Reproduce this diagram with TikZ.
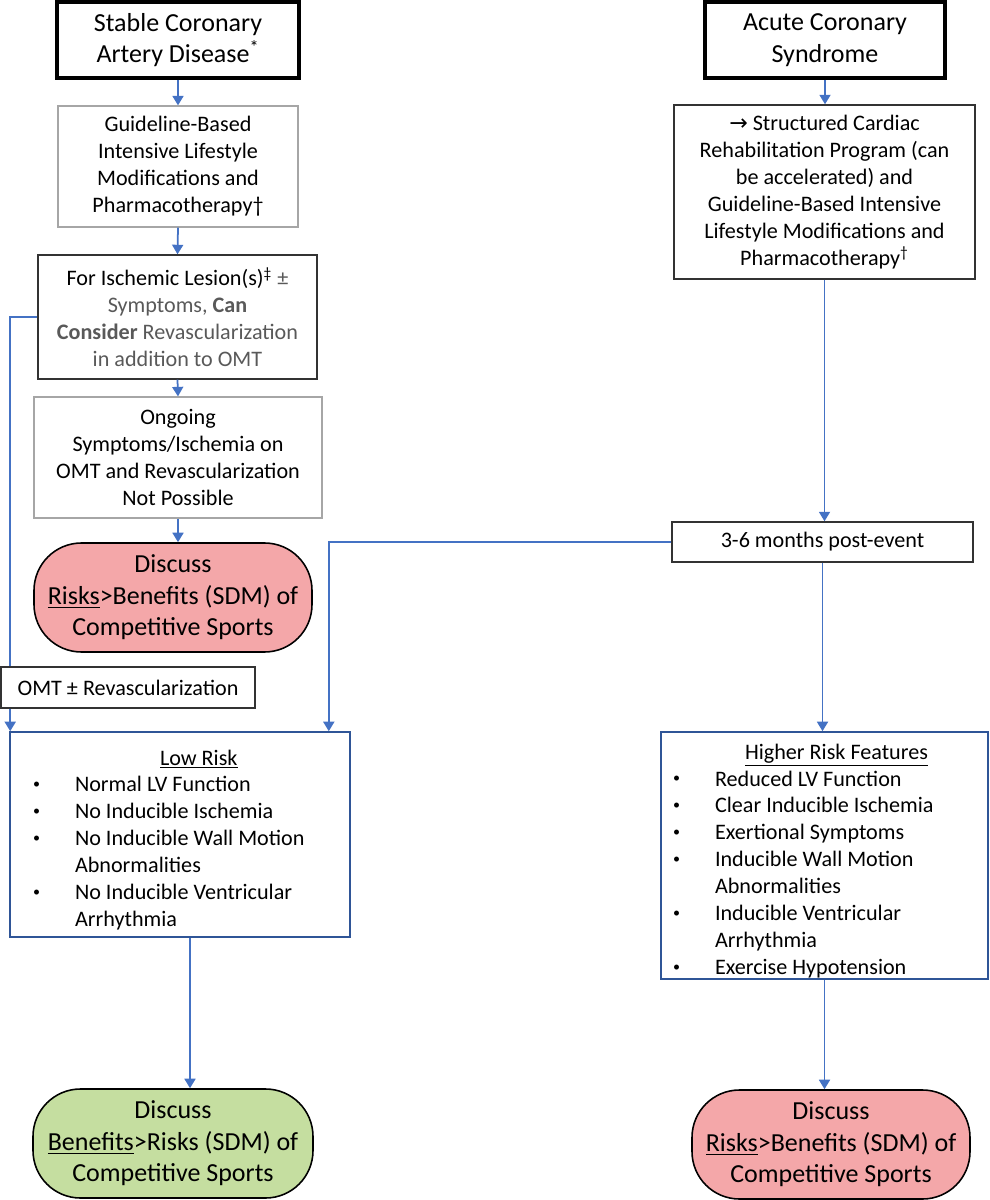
\documentclass[tikz,border=0pt]{standalone}
\usepackage{fontspec}
\setmainfont{Carlito}
\newfontfamily\arrowfont{DejaVu Sans}
\usepackage{xcolor}
\usetikzlibrary{arrows.meta}
\definecolor{linkblue}{RGB}{68,114,196}
\definecolor{frameblue}{RGB}{47,85,151}
\definecolor{boxgray}{RGB}{166,166,166}
\definecolor{txtgray}{RGB}{89,89,89}
\definecolor{riskpink}{RGB}{244,167,169}
\definecolor{okgreen}{RGB}{197,222,160}
\newcommand\headsize{\fontsize{14.8}{18}\selectfont}
\newcommand\bodysize{\fontsize{12.6}{15.3}\selectfont}
\newcommand\bl{\makebox[0.84cm][l]{\raisebox{0.3ex}{\fontsize{8}{8}\selectfont\textbullet}}}
\newcommand\hang{\hspace*{0.84cm}}
\tikzset{
  head/.style={draw, line width=2.2pt, align=flush center, inner sep=0pt, font=\headsize},
  plainbox/.style={draw=boxgray, line width=0.7pt, align=flush center, inner sep=0pt, font=\bodysize},
  darkbox/.style={draw=black!80, line width=0.8pt, align=flush center, inner sep=0pt, font=\bodysize},
  riskbox/.style={draw=frameblue, line width=0.9pt, align=flush left, inner ysep=0pt, font=\bodysize},
  pill/.style={draw, line width=0.9pt, rounded corners=0.95cm, align=flush center, inner sep=0pt, font=\headsize},
  link/.style={draw=linkblue, line width=1pt, -{Triangle[width=0.22cm,length=0.19cm]}},
}

\begin{document}
\begin{tikzpicture}
\useasboundingbox (0,0) rectangle (19.78,-24);
% stable disease column
\node[head, minimum width=4.84cm, minimum height=1.52cm] (cad) at (3.56,-0.8) {Stable Coronary\\Artery Disease\textsuperscript{*}};
\node[plainbox, minimum width=4.8cm, minimum height=2.42cm] (glm) at (3.56,-3.33) {Guideline-Based\\Intensive Lifestyle\\Modifications and\\Pharmacotherapy†};
\node[darkbox, minimum width=5.58cm, minimum height=2.48cm] (lesion) at (3.55,-6.34) {For Ischemic Lesion(s)\textsuperscript{‡} {\color{txtgray}±}\\{\color{txtgray}Symptoms, \textbf{Can}}\\{\color{txtgray}\textbf{Consider} Revascularization}\\{\color{txtgray}in addition to OMT}};
\node[plainbox, minimum width=5.76cm, minimum height=2.42cm] (ongoing) at (3.56,-9.15) {Ongoing\\Symptoms/Ischemia on\\OMT and Revascularization\\Not Possible};
\node[pill, fill=riskpink, minimum width=5.56cm, minimum height=2.18cm] (riskL) at (3.46,-11.95) {Discuss\\\underline{Risks}>Benefits (SDM) of\\Competitive Sports};
\node[riskbox, inner xsep=0.46cm, text width=5.88cm, minimum height=4.1cm] (low) at (3.6,-16.69) {\rule{0pt}{0.52cm}\hspace*{2.54cm}\underline{Low Risk}\\\bl Normal LV Function\\\bl No Inducible Ischemia\\\bl No Inducible Wall Motion\\\hang Abnormalities\\\bl No Inducible Ventricular\\\hang Arrhythmia};
\node[pill, fill=okgreen, minimum width=5.6cm, minimum height=2.18cm] (benefit) at (3.46,-22.87) {Discuss\\\underline{Benefits}>Risks (SDM) of\\Competitive Sports};
% acute column
\node[head, minimum width=4.8cm, minimum height=1.52cm] (acs) at (16.5,-0.8) {Acute Coronary\\Syndrome};
\node[darkbox, minimum width=6.02cm, minimum height=3.48cm] (rehab) at (16.49,-3.84) {{\arrowfont →} Structured Cardiac\\Rehabilitation Program (can\\be accelerated) and\\Guideline-Based Intensive\\Lifestyle Modifications and\\Pharmacotherapy\textsuperscript{†}};
\node[darkbox, minimum width=6.02cm, minimum height=0.8cm] (months) at (16.45,-10.84) {3-6 months post-event};
\node[riskbox, inner xsep=0.24cm, text width=6.06cm, minimum height=4.94cm] (high) at (16.49,-17.11) {\rule{0pt}{0.52cm}\hspace*{1.44cm}\underline{Higher Risk Features}\\\bl Reduced LV Function\\\bl Clear Inducible Ischemia\\\bl Exertional Symptoms\\\bl Inducible Wall Motion\\\hang Abnormalities\\\bl Inducible Ventricular\\\hang Arrhythmia\\\bl Exercise Hypotension};
\node[pill, fill=riskpink, minimum width=5.56cm, minimum height=2.18cm] (riskR) at (16.62,-22.89) {Discuss\\\underline{Risks}>Benefits (SDM) of\\Competitive Sports};
% connectors
\coordinate (lowout) at ([xshift=0.2cm]low.south);
\draw[link] (cad.south) -- (glm.north);
\draw[link] (glm.south) -- (lesion.north);
\draw[link] (lesion.south) -- (ongoing.north);
\draw[link] (ongoing.south) -- (ongoing.south |- riskL.north);
\draw[link] (lesion.west) -| ([xshift=0.02cm]low.north west);
\draw[link] (lowout) -- (lowout |- benefit.north);
\draw[link] (acs.south) -- (acs.south |- rehab.north);
\draw[link] (rehab.south) -- (rehab.south |- months.north);
\draw[link] (months.west) -| ([xshift=-0.44cm]low.north east);
\draw[link] (months.south) -- (months.south |- high.north);
\draw[link] (high.south) -- (high.south |- riskR.north);
\node[darkbox, fill=white, minimum width=5.08cm, minimum height=0.82cm] (omt) at (2.56,-13.75) {OMT ± Revascularization};
\end{tikzpicture}
\end{document}
